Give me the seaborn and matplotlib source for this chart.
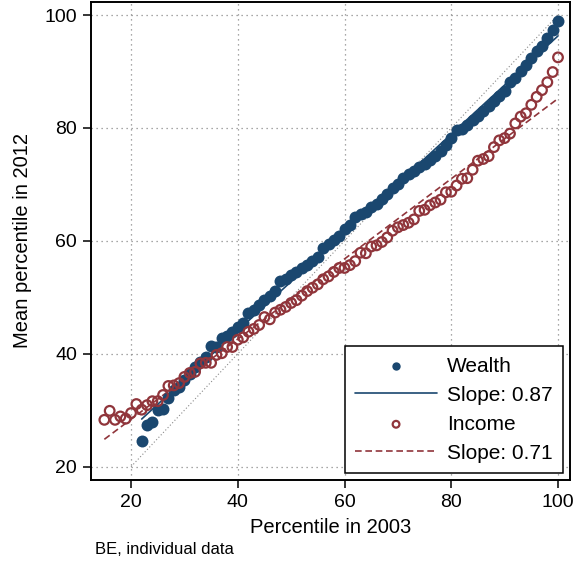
import numpy as np
import pandas as pd
import matplotlib
matplotlib.use("Agg")
import matplotlib.pyplot as plt
import seaborn as sns

# Datos (percentil medio en 2012 según percentil en 2003)
wealth_x = list(range(22, 101))
wealth_y = [24.5, 27.3, 27.9, 30.0, 30.3, 32.1, 33.5, 34.1, 35.3, 36.5,
            37.7, 38.6, 39.5, 41.4, 41.2, 42.8, 43.2, 43.9, 44.8, 45.5,
            47.2, 47.8, 48.7, 49.5, 50.3, 51.2, 52.9, 53.3, 53.9, 54.5,
            55.2, 55.8, 56.5, 57.1, 58.8, 59.4, 60.1, 60.9, 62.1, 62.8,
            64.2, 64.7, 65.2, 66.0, 66.5, 67.5, 68.3, 69.3, 70.1, 71.1,
            71.8, 72.4, 73.1, 73.7, 74.4, 75.1, 76.0, 76.9, 78.2, 79.6,
            79.9, 80.6, 81.4, 82.2, 83.0, 83.8, 84.7, 85.6, 86.6, 88.2,
            88.8, 90.1, 91.2, 92.4, 93.6, 94.5, 95.9, 97.4, 99.0]

income_x = list(range(15, 101))
income_y = [28.3, 29.9, 28.3, 28.9, 28.5, 29.5, 31.1, 30.1, 30.9, 31.6,
            31.6, 32.7, 34.3, 34.4, 34.8, 35.9, 36.6, 36.8, 38.3, 38.4,
            38.4, 39.8, 40.1, 41.2, 41.2, 42.5, 42.9, 43.9, 44.4, 45.1,
            46.5, 46.1, 47.3, 47.8, 48.3, 49.0, 49.5, 50.3, 51.1, 51.7,
            52.3, 53.2, 53.7, 54.5, 55.2, 55.2, 55.7, 56.4, 57.9, 57.8,
            59.0, 59.2, 59.8, 60.6, 61.8, 62.4, 62.8, 63.2, 63.8, 65.3,
            65.5, 66.3, 66.8, 67.3, 68.6, 68.7, 69.8, 71.0, 71.1, 72.6,
            74.2, 74.5, 75.0, 76.6, 77.8, 78.2, 79.0, 80.8, 82.0, 82.6,
            84.1, 85.5, 86.7, 88.1, 89.9, 92.5]

# Rectas ajustadas (intercepto, pendiente)
wealth_fit = (9.3, 0.87)
income_fit = (14.2, 0.71)

ticks = [20, 40, 60, 80, 100]

navy = "#1a476f"
maroon = "#90353b"

df_w = pd.DataFrame({"x": wealth_x, "y": wealth_y})
df_i = pd.DataFrame({"x": income_x, "y": income_y})

sns.set_style("ticks")
plt.rcParams["font.family"] = ["Liberation Sans", "DejaVu Sans"]
plt.rcParams["text.color"] = "black"
plt.rcParams["axes.labelcolor"] = "black"
plt.rcParams["xtick.color"] = "black"
plt.rcParams["ytick.color"] = "black"

fig = plt.figure(figsize=(5.76, 5.67), dpi=100)
ax = fig.add_axes([0.158, 0.1534, 0.8316, 0.8436])

# Línea de 45 grados
ax.plot([20, 100], [20, 100], color="#8a8a8a", linestyle=(0, (1, 2)),
        linewidth=0.8, zorder=1)

# Riqueza
sns.scatterplot(data=df_w, x="x", y="y", ax=ax, color=navy, s=74,
                linewidth=0, label="Wealth", zorder=3)
xw = np.array([min(wealth_x), max(wealth_x)])
ax.plot(xw, wealth_fit[0] + wealth_fit[1] * xw, color=navy, linewidth=1.2,
        label="Slope: 0.87", zorder=2)

# Ingreso
sns.scatterplot(data=df_i, x="x", y="y", ax=ax, facecolor="none",
                edgecolor=maroon, s=48, linewidth=1.6, label="Income", zorder=3)
xi = np.array([min(income_x), max(income_x)])
ax.plot(xi, income_fit[0] + income_fit[1] * xi, color=maroon, linewidth=1.2,
        linestyle=(0, (4, 2.2)), label="Slope: 0.71", zorder=2)

ax.set_xlim(12.5, 102.25)
ax.set_ylim(17.64, 102.36)
ax.set_xticks(ticks)
ax.set_yticks(ticks)
ax.grid(True, color="#8a8a8a", linestyle=(0, (1, 3)), linewidth=0.9)
ax.set_axisbelow(True)
for sp in ax.spines.values():
    sp.set_color("black")
    sp.set_linewidth(1.4)
ax.tick_params(axis="both", direction="out", length=6, width=1.1,
               labelsize=14, pad=4, color="black")
ax.set_xlabel("Percentile in 2003", fontsize=14.5, labelpad=5)
ax.set_ylabel("Mean percentile in 2012", fontsize=14.5, labelpad=9)

leg = ax.legend(loc="lower right", fontsize=15, frameon=True, fancybox=False,
                edgecolor="black", framealpha=1, borderaxespad=0.33,
                borderpad=0.5, handlelength=3.9, handletextpad=0.5,
                labelspacing=0.48, scatterpoints=1, markerscale=0.7)
leg.get_frame().set_linewidth(1.1)

fig.text(95 / 576, 1 - 549 / 567, "BE, individual data", fontsize=12,
         ha="left", va="center")

fig.savefig("out.png", dpi=100)
